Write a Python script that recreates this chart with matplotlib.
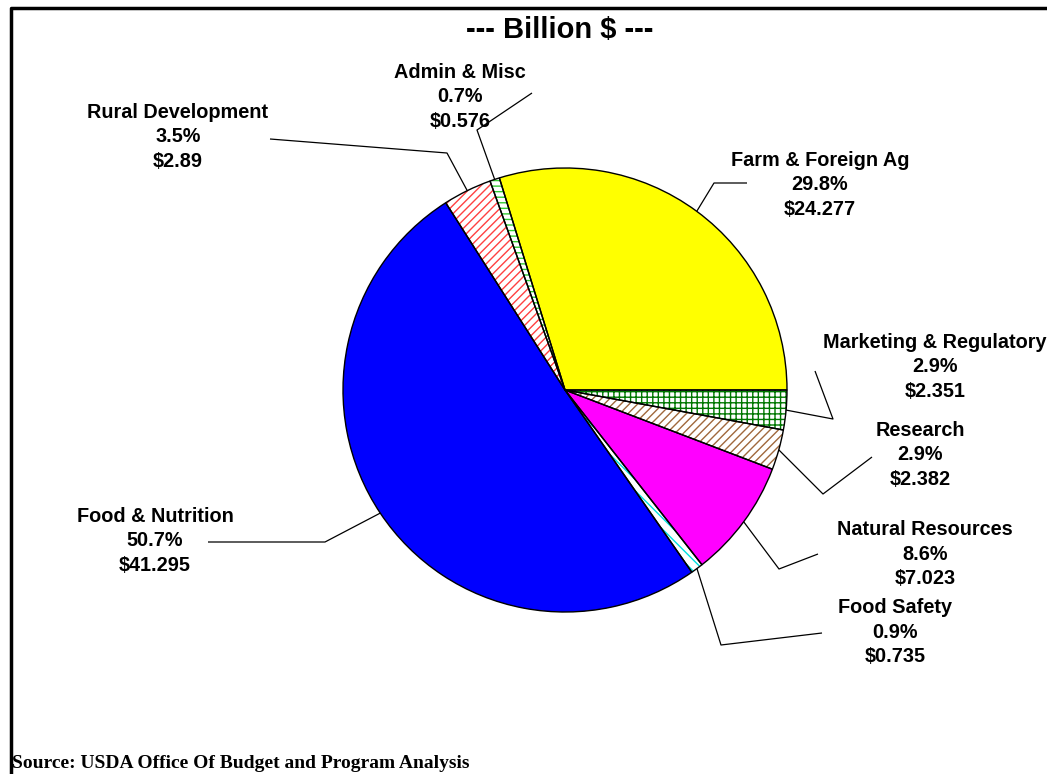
import numpy as np
import matplotlib
matplotlib.use("Agg")
import matplotlib.pyplot as plt
from matplotlib.lines import Line2D

W, H = 1047, 774

# mission areas, counter-clockwise from 3 o'clock
areas = ["Farm & Foreign Ag", "Admin & Misc", "Rural Development", "Food & Nutrition",
         "Food Safety", "Natural Resources", "Research", "Marketing & Regulatory"]
budget = [24.277, 0.576, 2.89, 41.295, 0.735, 7.023, 2.382, 2.351]
pct_labels = ["29.8%", "0.7%", "3.5%", "50.7%", "0.9%", "8.6%", "2.9%", "2.9%"]
dollar_labels = ["$24.277", "$0.576", "$2.89", "$41.295", "$0.735", "$7.023", "$2.382", "$2.351"]

face = ["#FFFF00", "white", "white", "#0000FF", "white", "#FF00FF", "white", "white"]
hatches = [None, "---", "////", None, "\\\\\\", None, "////", "+++"]
hatch_col = ["#FFFF00", "#33CC33", "#FF4040", "#0000FF", "#00E0E0", "#FF00FF", "#A0683C", "#007700"]

# label layout in pixels: text centre, leader elbow, leader end near text
label_xy = [(820, 185), (460, 97), (178, 137), (155, 541), (895, 632), (925, 554), (920, 455), (935, 367)]
elbow = [(714, 183), (477, 130), (447, 153), (325, 542), (721, 645), (779, 569), (823, 494), (833, 419)]
tip = [(747, 183), (532, 93), (270, 139), (208, 542), (822, 633), (818, 554), (872, 457), (815, 371)]

cx, cy, r = 565, 390, 222

plt.rcParams['hatch.linewidth'] = 1.0
fig = plt.figure(figsize=(W / 100, H / 100), dpi=100)
ax = fig.add_axes([0, 0, 1, 1])

# y axis is inverted, so clockwise in data is counter-clockwise on screen
wedges, _ = ax.pie(budget, colors=face, hatch=hatches, startangle=0, counterclock=False,
                   center=(cx, cy), radius=r, wedgeprops=dict(linewidth=0))
for w, c in zip(wedges, hatch_col):
    w.set_edgecolor(c)
outline, _ = ax.pie(budget, colors=["none"] * len(budget), startangle=0, counterclock=False,
                    center=(cx, cy), radius=r,
                    wedgeprops=dict(linewidth=1.0, edgecolor="black", fill=False))

ax.set_xlim(0, W)
ax.set_ylim(H, 0)
ax.set_aspect("equal")
ax.axis("off")

for i, w in enumerate(outline):
    mid = np.deg2rad((w.theta1 + w.theta2) / 2)
    ex, ey = cx + r * np.cos(mid), cy + r * np.sin(mid)
    ax.plot([ex, elbow[i][0], tip[i][0]], [ey, elbow[i][1], tip[i][1]],
            color="black", lw=0.9, solid_capstyle="butt")
    ax.text(label_xy[i][0], label_xy[i][1],
            areas[i] + "\n" + pct_labels[i] + "\n" + dollar_labels[i],
            ha="center", va="center", fontsize=14.3, fontweight="bold",
            family=["Liberation Sans", "DejaVu Sans"], linespacing=1.34)

ax.text(560, 30, "--- Billion $ ---", ha="center", va="center", fontsize=21,
        fontweight="bold", family=["Liberation Sans", "DejaVu Sans"])

ax.text(12, 763, "Source: USDA Office Of Budget and Program Analysis", ha="left", va="center",
        fontsize=14, fontweight="bold", family=["Liberation Serif", "DejaVu Serif"])

# chart frame (left and top edges visible)
fig.add_artist(Line2D([10.5 / W, 10.5 / W, 1.0], [0.0, 1 - 7.5 / H, 1 - 7.5 / H],
                      transform=fig.transFigure, color="black", lw=2.5))

fig.savefig("out.png", dpi=100)
